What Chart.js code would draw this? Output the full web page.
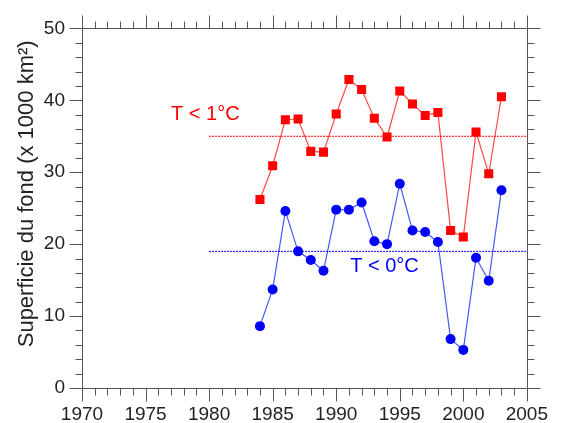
<!DOCTYPE html>
<html>
<head>
  <meta charset="utf-8" />
  <script src="https://cdn.jsdelivr.net/npm/chart.js@4.4.0/dist/chart.umd.min.js"></script>
  <style>
    body { margin:0; background:#fff; }
    #wrap { width:563px; height:423px; }
  </style>
</head>
<body>
  <div id="wrap"><canvas id="fondChart" width="563" height="423"></canvas></div>

<script>
// bottom-water area by year, two temperature thresholds
const years = [1984, 1985, 1986, 1987, 1988, 1989, 1990, 1991, 1992, 1993,
               1994, 1995, 1996, 1997, 1998, 1999, 2000, 2001, 2002, 2003];
const areaBelow1 = [26.2, 30.9, 37.3, 37.4, 32.9, 32.8, 38.1, 42.9, 41.5, 37.5,
                    34.9, 41.3, 39.5, 37.9, 38.3, 21.9, 21.0, 35.6, 29.8, 40.5];
const areaBelow0 = [8.6, 13.7, 24.6, 19.0, 17.8, 16.3, 24.8, 24.8, 25.8, 20.4,
                    20.0, 28.4, 21.9, 21.7, 20.3, 6.8, 5.3, 18.1, 14.9, 27.5];
// mean levels drawn as dotted lines
const meanSpan = [1980, 2005];
const meanBelow1 = 35;
const meanBelow0 = 19;
const seriesNames = ['T < 1°C', 'T < 0°C'];
const yTitle = 'Superficie du fond (x 1000 km²)';

const FONT = '"Liberation Sans", Arial, sans-serif';
const RED = '#ff0000', BLUE = '#0000ff';

const toPts = (xs, ys) => xs.map((x, i) => ({ x: x, y: ys[i] }));

// box with outward ticks on all four sides (majors longer)
const framePlugin = {
  id: 'frame',
  beforeDatasetsDraw(chart) {
    const { ctx, chartArea: a, scales: { x, y } } = chart;
    const L = Math.round(a.left) + 0.5, R = Math.round(a.right) + 0.5;
    const T = Math.round(a.top) + 0.5, B = Math.round(a.bottom) + 0.5;
    ctx.save();
    ctx.strokeStyle = '#555';
    ctx.lineWidth = 1;
    ctx.beginPath();
    ctx.rect(L, T, R - L, B - T);
    for (let yr = x.min; yr <= x.max; yr++) {
      const px = Math.round(x.getPixelForValue(yr)) + 0.5;
      const len = yr % 5 === 0 ? 13 : 7;
      ctx.moveTo(px, B); ctx.lineTo(px, B + len);
      ctx.moveTo(px, T); ctx.lineTo(px, T - len);
    }
    for (let v = y.min; v <= y.max; v += 2) {
      const py = Math.round(y.getPixelForValue(v)) + 0.5;
      const len = v % 10 === 0 ? 13 : 7;
      ctx.moveTo(L, py); ctx.lineTo(L - len, py);
      ctx.moveTo(R, py); ctx.lineTo(R + len, py);
    }
    ctx.stroke();

    // vertical axis title, sits a little above the middle of the axis
    ctx.translate(27, y.getPixelForValue(27));
    ctx.rotate(-Math.PI / 2);
    ctx.font = '22px ' + FONT;
    ctx.fillStyle = '#222';
    ctx.textAlign = 'center';
    ctx.textBaseline = 'middle';
    ctx.fillText(yTitle, 0, 0);
    ctx.restore();
  }
};

// series names placed next to their dotted mean lines
const namePlugin = {
  id: 'names',
  afterDatasetsDraw(chart) {
    const { ctx, scales: { x, y } } = chart;
    ctx.save();
    ctx.font = '20px ' + FONT;
    ctx.textAlign = 'center';
    ctx.textBaseline = 'middle';
    ctx.fillStyle = RED;
    ctx.fillText(seriesNames[0], x.getPixelForValue(1979.7), y.getPixelForValue(38.0));
    ctx.fillStyle = BLUE;
    ctx.fillText(seriesNames[1], x.getPixelForValue(1993.8), y.getPixelForValue(16.9));
    ctx.restore();
  }
};

new Chart(document.getElementById('fondChart'), {
  type: 'line',
  data: {
    datasets: [
      { data: toPts(meanSpan, [meanBelow1, meanBelow1]), borderColor: RED, borderWidth: 1,
        borderDash: [2, 1], pointRadius: 0 },
      { data: toPts(meanSpan, [meanBelow0, meanBelow0]), borderColor: BLUE, borderWidth: 1,
        borderDash: [2, 1], pointRadius: 0 },
      { data: toPts(years, areaBelow1), borderColor: '#ff4848', borderWidth: 1.2,
        pointStyle: 'rect', pointRadius: 6.4, pointBackgroundColor: RED, pointBorderWidth: 0 },
      { data: toPts(years, areaBelow0), borderColor: '#4858ff', borderWidth: 1.2,
        pointStyle: 'circle', pointRadius: 5, pointBackgroundColor: BLUE, pointBorderWidth: 0 }
    ]
  },
  options: {
    responsive: false,
    animation: false,
    layout: { padding: { top: 26, right: 25, left: 0, bottom: 0 } },
    plugins: { legend: { display: false }, tooltip: { enabled: false } },
    scales: {
      x: {
        type: 'linear', min: 1970, max: 2005,
        grid: { display: false, drawTicks: false },
        border: { display: false },
        ticks: { stepSize: 5, padding: 15, color: '#222', font: { family: FONT, size: 19 },
                 maxRotation: 0, callback: v => String(v) },
        afterFit: s => { s.height = 35; }
      },
      y: {
        min: 0, max: 50,
        grid: { display: false, drawTicks: false },
        border: { display: false },
        ticks: { stepSize: 10, padding: 17, color: '#222', font: { family: FONT, size: 19 } },
        afterFit: s => { s.width = 82; }
      }
    }
  },
  plugins: [framePlugin, namePlugin]
});
</script>
</body>
</html>
